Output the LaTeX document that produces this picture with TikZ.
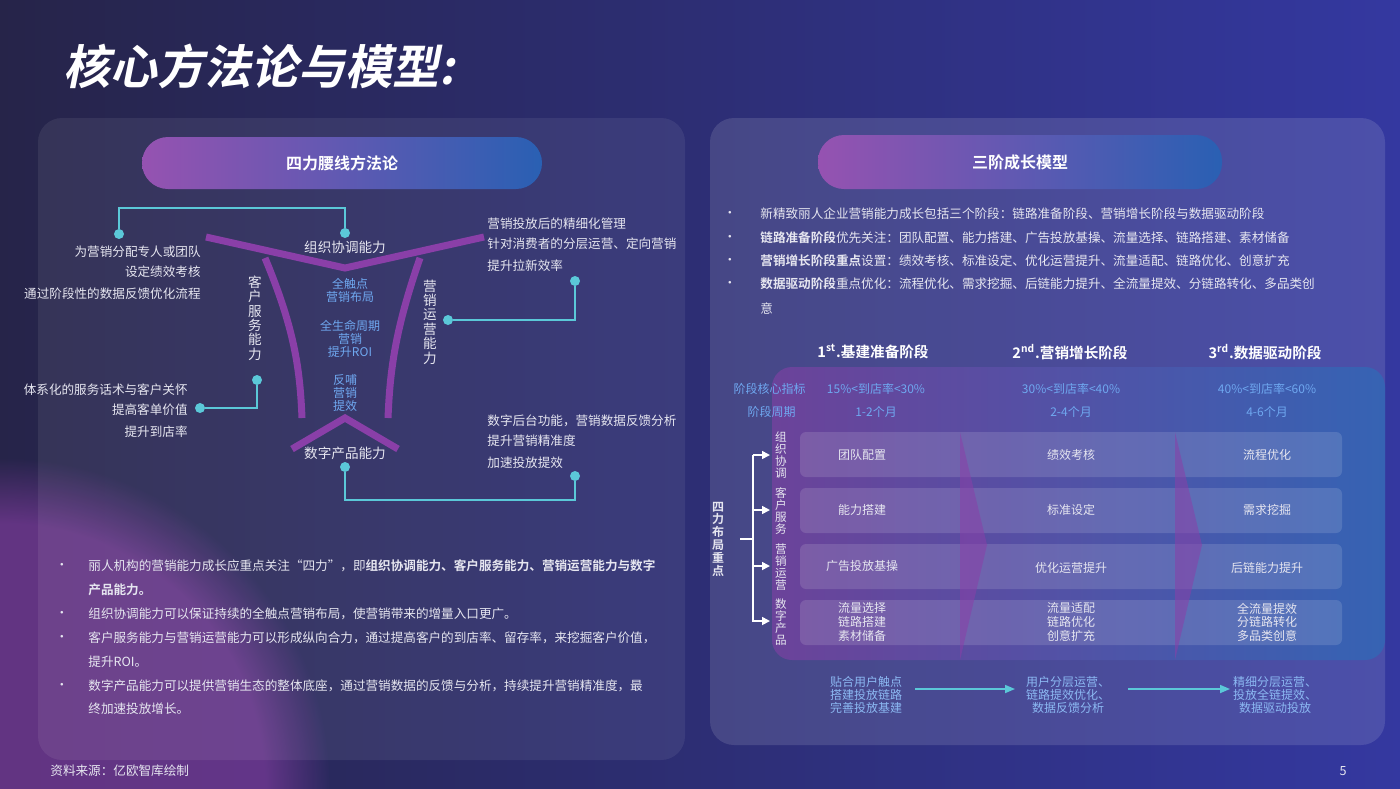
\documentclass[tikz,border=0pt]{standalone}
\usepackage{fontspec}
\setmainfont{Noto Sans CJK SC}[BoldFont=Noto Sans CJK SC Bold]
\newfontfamily\titlefont{Noto Sans CJK SC Bold}[FakeSlant=0.2]
\usetikzlibrary{shapes.geometric,arrows.meta,fadings}
\definecolor{bgA}{HTML}{262449}
\definecolor{bgB}{HTML}{3438A0}
\definecolor{pur}{HTML}{8A3FA8}
\definecolor{cy}{HTML}{5BC8D8}
\definecolor{lb}{HTML}{6FA8F0}
\definecolor{tc}{HTML}{E6E6F0}
\begin{document}
\begin{tikzpicture}[x=0.5pt,y=-0.5pt,
  t/.style={text=tc,font=\fontsize{6.3}{7}\selectfont,inner sep=0pt},
  ct/.style={text=lb,font=\fontsize{6}{6.6}\selectfont,align=center,inner sep=0pt},
  vt/.style={t,align=center,font=\fontsize{6.8}{7.2}\selectfont},
  dot/.style={circle,fill=cy,inner sep=0pt,minimum size=5pt},
  ln/.style={cy,line width=0.6pt},
  fun/.style={pur,line width=3.5pt},
  rowbox/.style={fill=white,fill opacity=0.13,rounded corners=3pt},
  cell/.style={t,align=center,font=\fontsize{6}{6.8}\selectfont},
  pill/.style={rounded corners=13pt,left color=pur!90,right color=bgB!80!cyan}]
\useasboundingbox (0,0) rectangle (1400,788);
\shade[left color=bgA,right color=bgB] (0,0) rectangle (1400,788);
\fill[pur,opacity=0.6,path fading=circle with fuzzy edge 20 percent] (0,788) circle (330);
\fill[white,opacity=0.07,rounded corners=12pt] (38,118) rectangle (685,760);
\fill[white,opacity=0.12,rounded corners=12pt] (710,118) rectangle (1385,745);
\node[anchor=west,text=white,font=\titlefont\fontsize{23.5}{25}\selectfont] (title) at (56,66) {核心方法论与模型:};
\node[t,anchor=west] (src) at (50,771) {资料来源：亿欧智库绘制};
\node[t] (pg) at (1343,771) {5};
% pills
\shade[pill] (142,137) rectangle (542,189);
\node[text=white,font=\bfseries\fontsize{8}{9}\selectfont] (h1) at (342,163) {四力腰线方法论};
\shade[pill] (818,135) rectangle (1222,189);
\node[text=white,font=\bfseries\fontsize{8}{9}\selectfont] (h2) at (1020,162) {三阶成长模型};
% funnel
\draw[fun] (206,237) -- (345,268) -- (484,237);
\draw[fun] (265,258) .. controls (295,330) and (300,370) .. (302,418);
\draw[fun] (420,258) .. controls (395,330) and (390,370) .. (388,418);
\draw[fun] (292,449) -- (345,418) -- (398,449);
\node[t,font=\fontsize{6.8}{7.5}\selectfont] (n1) at (345,247) {组织协调能力};
\node[t,font=\fontsize{6.8}{7.5}\selectfont] (n4) at (345,453) {数字产品能力};
\node[vt] (n2) at (255,318) {客\\户\\服\\务\\能\\力};
\node[vt] (n3) at (430,322) {营\\销\\运\\营\\能\\力};
\node[ct] (c1) at (350,290) {全触点\\营销布局};
\node[ct] (c2) at (350,339) {全生命周期\\营销\\提升ROI};
\node[ct] (c3) at (345,393) {反哺\\营销\\提效};
% connectors
\node[dot] (d1) at (119,234) {}; \node[dot] (d2) at (345,233) {};
\draw[ln] (d1) -- (119,208) -- (345,208) -- (d2);
\node[dot] (d3) at (575,281) {}; \node[dot] (d4) at (448,320) {};
\draw[ln] (d3) -- (575,320) -- (d4);
\node[dot] (d5) at (257,380) {}; \node[dot] (d6) at (200,408) {};
\draw[ln] (d5) -- (257,408) -- (d6);
\node[dot] (d7) at (345,467) {}; \node[dot] (d8) at (575,476) {};
\draw[ln] (d7) -- (345,500) -- (575,500) -- (d8);
\node[t,anchor=east] at (201,252) {为营销分配专人或团队};
\node[t,anchor=east] at (201,272) {设定绩效考核};
\node[t,anchor=east] at (201,294) {通过阶段性的数据反馈优化流程};
\node[t,anchor=west] at (487,224) {营销投放后的精细化管理};
\node[t,anchor=west] at (487,244) {针对消费者的分层运营、定向营销};
\node[t,anchor=west] at (487,266) {提升拉新效率};
\node[t,anchor=east] at (188,390) {体系化的服务话术与客户关怀};
\node[t,anchor=east] at (188,410) {提高客单价值};
\node[t,anchor=east] at (188,432) {提升到店率};
\node[t,anchor=west] at (487,421) {数字后台功能，营销数据反馈分析};
\node[t,anchor=west] at (487,441) {提升营销精准度};
\node[t,anchor=west] at (487,463) {加速投放提效};
% left bullets
\foreach \y in {566,614,638,686} \node[t] at (62,\y) {•};
\node[t,anchor=west] at (88,566) {丽人机构的营销能力成长应重点关注“四力”，即\textbf{组织协调能力、客户服务能力、营销运营能力与数字}};
\node[t,anchor=west] at (88,590) {\textbf{产品能力。}};
\node[t,anchor=west] at (88,614) {组织协调能力可以保证持续的全触点营销布局，使营销带来的增量入口更广。};
\node[t,anchor=west] at (88,638) {客户服务能力与营销运营能力可以形成纵向合力，通过提高客户的到店率、留存率，来挖掘客户价值，};
\node[t,anchor=west] at (88,662) {提升ROI。};
\node[t,anchor=west] at (88,686) {数字产品能力可以提供营销生态的整体底座，通过营销数据的反馈与分析，持续提升营销精准度，最};
\node[t,anchor=west] at (88,709) {终加速投放增长。};
% right bullets
\foreach \y in {214,238,261,284} \node[t] at (730,\y) {•};
\node[t,anchor=west] at (760,214) {新精致丽人企业营销能力成长包括三个阶段：链路准备阶段、营销增长阶段与数据驱动阶段};
\node[t,anchor=west] at (760,238) {\textbf{链路准备阶段}优先关注：团队配置、能力搭建、广告投放基操、流量选择、链路搭建、素材储备};
\node[t,anchor=west] at (760,261) {\textbf{营销增长阶段重点}设置：绩效考核、标准设定、优化运营提升、流量适配、链路优化、创意扩充};
\node[t,anchor=west] at (760,284) {\textbf{数据驱动阶段}重点优化：流程优化、需求挖掘、后链能力提升、全流量提效、分链路转化、多品类创};
\node[t,anchor=west] at (760,309) {意};
% table
\shade[left color=pur,right color=bgB!70!cyan,opacity=0.55,rounded corners=10pt] (772,367) rectangle (1385,660);
\node[text=white,font=\bfseries\fontsize{7.3}{8}\selectfont] at (873,352) {1\textsuperscript{st}.基建准备阶段};
\node[text=white,font=\bfseries\fontsize{7.3}{8}\selectfont] at (1070,352) {2\textsuperscript{nd}.营销增长阶段};
\node[text=white,font=\bfseries\fontsize{7.3}{8}\selectfont] at (1265,352) {3\textsuperscript{rd}.数据驱动阶段};
\node[ct,anchor=east] at (806,389) {阶段核心指标};
\node[ct,anchor=east] at (796,412) {阶段周期};
\node[ct] at (876,389) {15\%<到店率<30\%};
\node[ct] at (1071,389) {30\%<到店率<40\%};
\node[ct] at (1267,389) {40\%<到店率<60\%};
\node[ct] at (876,412) {1-2个月};
\node[ct] at (1071,412) {2-4个月};
\node[ct] at (1267,412) {4-6个月};
\foreach \a in {432,488,544,600} \fill[rowbox] (800,\a) rectangle (1342,\a+45);
\fill[pur,opacity=0.55] (960,432) -- (987,545) -- (960,660) -- cycle;
\fill[pur,opacity=0.55] (1175,432) -- (1202,545) -- (1175,660) -- cycle;
\node[vt,font=\fontsize{5.8}{5.9}\selectfont] at (781,455) {组\\织\\协\\调};
\node[vt,font=\fontsize{5.8}{5.9}\selectfont] at (781,511) {客\\户\\服\\务};
\node[vt,font=\fontsize{5.8}{5.9}\selectfont] at (781,567) {营\\销\\运\\营};
\node[vt,font=\fontsize{5.8}{5.9}\selectfont] at (781,622) {数\\字\\产\\品};
\node[vt,font=\bfseries\fontsize{6}{6.4}\selectfont] at (718,539) {四\\力\\布\\局\\重\\点};
\draw[white,line width=0.8pt] (740,539) -- (753,539);
\draw[white,line width=0.8pt] (753,455) -- (753,622);
\foreach \y in {455,510,566,621} \draw[white,line width=0.8pt,-{Triangle[length=4pt,width=4pt]}] (753,\y) -- (770,\y);
\node[cell] at (862,455) {团队配置};
\node[cell] at (1071,455) {绩效考核};
\node[cell] at (1267,455) {流程优化};
\node[cell] at (862,510) {能力搭建};
\node[cell] at (1071,510) {标准设定};
\node[cell] at (1267,510) {需求挖掘};
\node[cell] at (862,566) {广告投放基操};
\node[cell] at (1071,568) {优化运营提升};
\node[cell] at (1267,568) {后链能力提升};
\node[cell] at (862,622) {流量选择\\链路搭建\\素材储备};
\node[cell] at (1071,622) {流量适配\\链路优化\\创意扩充};
\node[cell] at (1267,622) {全流量提效\\分链路转化\\多品类创意};
\node[ct,text=lb!80!white] (b1) at (866,695) {贴合用户触点\\搭建投放链路\\完善投放基建};
\node[ct,text=lb!80!white] (b2) at (1068,695) {用户分层运营、\\链路提效优化、\\数据反馈分析};
\node[ct,text=lb!80!white] (b3) at (1275,695) {精细分层运营、\\投放全链提效、\\数据驱动投放};
\draw[cy,line width=0.8pt,-{Triangle[length=5pt,width=4pt]}] (915,689) -- (1015,689);
\draw[cy,line width=0.8pt,-{Triangle[length=5pt,width=4pt]}] (1128,689) -- (1230,689);
\end{tikzpicture}
\end{document}
